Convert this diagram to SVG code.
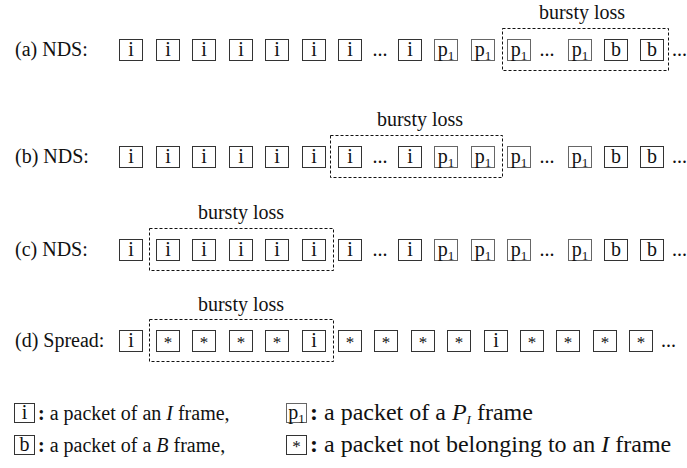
<svg xmlns="http://www.w3.org/2000/svg" width="687" height="468" viewBox="0 0 687 468">
<style>
text{fill:#111}
.lbl{font-size:20px}
.bl{font-size:20px;text-anchor:middle}
.pk{fill:#fff;stroke:#333;stroke-width:1}
.pk2{fill:#fff;stroke:#666;stroke-width:1}
.c{font-size:20px;text-anchor:middle}
.s{font-size:17px;text-anchor:middle}
.sub{font-size:13px}
.dash{fill:none;stroke:#111;stroke-width:1;stroke-dasharray:3,2}
.lg{font-size:20px}
.lg2{font-size:24px}
</style>
<defs>
<rect id="bx" class="pk" width="23" height="21"/>
<rect id="bp" class="pk2" width="23" height="21"/>
<rect id="lbx" class="pk" width="20" height="19"/>
<rect id="lbp" class="pk2" width="20" height="19"/>
</defs>
<g font-family="Liberation Serif, Times New Roman, serif">
<!-- Row (a) -->
<g id="row-a">
<text class="lbl" x="15" y="56">(a) NDS:</text>
<g id="a1"><use href="#bx" x="119.5" y="39.5"/><text class="c" x="131" y="56">i</text></g>
<g id="a2"><use href="#bx" x="156.5" y="39.5"/><text class="c" x="168" y="56">i</text></g>
<g id="a3"><use href="#bx" x="192.5" y="39.5"/><text class="c" x="204" y="56">i</text></g>
<g id="a4"><use href="#bx" x="229.5" y="39.5"/><text class="c" x="241" y="56">i</text></g>
<g id="a5"><use href="#bx" x="265.5" y="39.5"/><text class="c" x="277" y="56">i</text></g>
<g id="a6"><use href="#bx" x="302.5" y="39.5"/><text class="c" x="314" y="56">i</text></g>
<g id="a7"><use href="#bx" x="338.5" y="39.5"/><text class="c" x="350" y="56">i</text></g>
<text class="c" x="380" y="56">...</text>
<g id="a8"><use href="#bx" x="398.5" y="39.5"/><text class="c" x="410" y="56">i</text></g>
<g id="a9"><use href="#bp" x="434.5" y="39.5"/><text class="c" x="446" y="56">p<tspan class="sub" dy="4">1</tspan></text></g>
<g id="a10"><use href="#bp" x="471.5" y="39.5"/><text class="c" x="483" y="56">p<tspan class="sub" dy="4">1</tspan></text></g>
<g id="a11"><use href="#bp" x="507.5" y="39.5"/><text class="c" x="519" y="56">p<tspan class="sub" dy="4">1</tspan></text></g>
<text class="c" x="547" y="56">...</text>
<g id="a12"><use href="#bp" x="568.5" y="39.5"/><text class="c" x="580" y="56">p<tspan class="sub" dy="4">1</tspan></text></g>
<g id="a13"><use href="#bx" x="604.5" y="39.5"/><text class="c" x="616" y="56">b</text></g>
<g id="a14"><use href="#bx" x="640.5" y="39.5"/><text class="c" x="652" y="56">b</text></g>
<text class="lbl" x="672" y="56">...</text>
<g id="loss-a"><rect class="dash" x="502.5" y="28.5" width="166" height="42"/><text class="bl" x="582" y="19">bursty loss</text></g>
</g>

<!-- Row (b) -->
<g id="row-b">
<text class="lbl" x="15" y="163">(b) NDS:</text>
<g id="b1"><use href="#bx" x="119.5" y="146.5"/><text class="c" x="131" y="163">i</text></g>
<g id="b2"><use href="#bx" x="156.5" y="146.5"/><text class="c" x="168" y="163">i</text></g>
<g id="b3"><use href="#bx" x="192.5" y="146.5"/><text class="c" x="204" y="163">i</text></g>
<g id="b4"><use href="#bx" x="229.5" y="146.5"/><text class="c" x="241" y="163">i</text></g>
<g id="b5"><use href="#bx" x="265.5" y="146.5"/><text class="c" x="277" y="163">i</text></g>
<g id="b6"><use href="#bx" x="302.5" y="146.5"/><text class="c" x="314" y="163">i</text></g>
<g id="b7"><use href="#bx" x="338.5" y="146.5"/><text class="c" x="350" y="163">i</text></g>
<text class="c" x="380" y="163">...</text>
<g id="b8"><use href="#bx" x="398.5" y="146.5"/><text class="c" x="410" y="163">i</text></g>
<g id="b9"><use href="#bp" x="434.5" y="146.5"/><text class="c" x="446" y="163">p<tspan class="sub" dy="4">1</tspan></text></g>
<g id="b10"><use href="#bp" x="471.5" y="146.5"/><text class="c" x="483" y="163">p<tspan class="sub" dy="4">1</tspan></text></g>
<g id="b11"><use href="#bp" x="507.5" y="146.5"/><text class="c" x="519" y="163">p<tspan class="sub" dy="4">1</tspan></text></g>
<text class="c" x="547" y="163">...</text>
<g id="b12"><use href="#bp" x="568.5" y="146.5"/><text class="c" x="580" y="163">p<tspan class="sub" dy="4">1</tspan></text></g>
<g id="b13"><use href="#bx" x="604.5" y="146.5"/><text class="c" x="616" y="163">b</text></g>
<g id="b14"><use href="#bx" x="640.5" y="146.5"/><text class="c" x="652" y="163">b</text></g>
<text class="lbl" x="672" y="163">...</text>
<g id="loss-b"><rect class="dash" x="330.5" y="135.5" width="172" height="42"/><text class="bl" x="420" y="126">bursty loss</text></g>
</g>

<!-- Row (c) -->
<g id="row-c">
<text class="lbl" x="15" y="256">(c) NDS:</text>
<g id="c1"><use href="#bx" x="119.5" y="239.5"/><text class="c" x="131" y="256">i</text></g>
<g id="c2"><use href="#bx" x="156.5" y="239.5"/><text class="c" x="168" y="256">i</text></g>
<g id="c3"><use href="#bx" x="192.5" y="239.5"/><text class="c" x="204" y="256">i</text></g>
<g id="c4"><use href="#bx" x="229.5" y="239.5"/><text class="c" x="241" y="256">i</text></g>
<g id="c5"><use href="#bx" x="265.5" y="239.5"/><text class="c" x="277" y="256">i</text></g>
<g id="c6"><use href="#bx" x="302.5" y="239.5"/><text class="c" x="314" y="256">i</text></g>
<g id="c7"><use href="#bx" x="338.5" y="239.5"/><text class="c" x="350" y="256">i</text></g>
<text class="c" x="380" y="256">...</text>
<g id="c8"><use href="#bx" x="398.5" y="239.5"/><text class="c" x="410" y="256">i</text></g>
<g id="c9"><use href="#bp" x="434.5" y="239.5"/><text class="c" x="446" y="256">p<tspan class="sub" dy="4">1</tspan></text></g>
<g id="c10"><use href="#bp" x="471.5" y="239.5"/><text class="c" x="483" y="256">p<tspan class="sub" dy="4">1</tspan></text></g>
<g id="c11"><use href="#bp" x="507.5" y="239.5"/><text class="c" x="519" y="256">p<tspan class="sub" dy="4">1</tspan></text></g>
<text class="c" x="547" y="256">...</text>
<g id="c12"><use href="#bp" x="568.5" y="239.5"/><text class="c" x="580" y="256">p<tspan class="sub" dy="4">1</tspan></text></g>
<g id="c13"><use href="#bx" x="604.5" y="239.5"/><text class="c" x="616" y="256">b</text></g>
<g id="c14"><use href="#bx" x="640.5" y="239.5"/><text class="c" x="652" y="256">b</text></g>
<text class="lbl" x="672" y="256">...</text>
<g id="loss-c"><rect class="dash" x="149.5" y="228.5" width="184" height="42"/><text class="bl" x="241" y="219">bursty loss</text></g>
</g>

<!-- Row (d) -->
<g id="row-d">
<text class="lbl" x="15" y="347">(d) Spread:</text>
<g id="d1"><use href="#bx" x="119.5" y="330.5"/><text class="c" x="131" y="347">i</text></g>
<g id="d2"><use href="#bx" x="156.5" y="330.5"/><text class="s" x="168" y="348">*</text></g>
<g id="d3"><use href="#bx" x="192.5" y="330.5"/><text class="s" x="204" y="348">*</text></g>
<g id="d4"><use href="#bx" x="229.5" y="330.5"/><text class="s" x="241" y="348">*</text></g>
<g id="d5"><use href="#bx" x="265.5" y="330.5"/><text class="s" x="277" y="348">*</text></g>
<g id="d6"><use href="#bx" x="302.5" y="330.5"/><text class="c" x="314" y="347">i</text></g>
<g id="d7"><use href="#bx" x="338.5" y="330.5"/><text class="s" x="350" y="348">*</text></g>
<g id="d8"><use href="#bx" x="374.5" y="330.5"/><text class="s" x="386" y="348">*</text></g>
<g id="d9"><use href="#bx" x="411.5" y="330.5"/><text class="s" x="423" y="348">*</text></g>
<g id="d10"><use href="#bx" x="447.5" y="330.5"/><text class="s" x="459" y="348">*</text></g>
<g id="d11"><use href="#bx" x="484.5" y="330.5"/><text class="c" x="496" y="347">i</text></g>
<g id="d12"><use href="#bx" x="520.5" y="330.5"/><text class="s" x="532" y="348">*</text></g>
<g id="d13"><use href="#bx" x="556.5" y="330.5"/><text class="s" x="568" y="348">*</text></g>
<g id="d14"><use href="#bx" x="593.5" y="330.5"/><text class="s" x="605" y="348">*</text></g>
<g id="d15"><use href="#bx" x="629.5" y="330.5"/><text class="s" x="641" y="348">*</text></g>
<text class="lbl" x="661" y="347">...</text>
<g id="loss-d"><rect class="dash" x="149.5" y="319.5" width="184" height="42"/><text class="bl" x="241" y="311">bursty loss</text></g>
</g>

<!-- Legend -->
<g id="legend">
<g id="leg-i"><use href="#lbx" x="14.5" y="403.5"/><text class="c" x="24.5" y="419">i</text>
<text class="lg" x="38" y="420"><tspan font-weight="bold">:</tspan> a packet of an <tspan font-style="italic">I</tspan> frame,</text></g>
<g id="leg-p"><use href="#lbp" x="286.5" y="403.5"/><text class="c" x="296.5" y="419">p<tspan class="sub" dy="4">1</tspan></text>
<text class="lg2" x="310" y="420"><tspan font-weight="bold">:</tspan> a packet of a <tspan font-style="italic">P</tspan><tspan class="sub" font-style="italic" dy="4">I</tspan><tspan dy="-4"> frame</tspan></text></g>
<g id="leg-b"><use href="#lbx" x="14.5" y="435.5"/><text class="c" x="24.5" y="451">b</text>
<text class="lg" x="38" y="452"><tspan font-weight="bold">:</tspan> a packet of a <tspan font-style="italic">B</tspan> frame,</text></g>
<g id="leg-s"><use href="#lbx" x="286.5" y="435.5"/><text class="s" x="296.5" y="452">*</text>
<text class="lg2" x="310" y="452"><tspan font-weight="bold">:</tspan> a packet not belonging to an <tspan font-style="italic">I</tspan> frame</text></g>
</g>
</g>
</svg>
